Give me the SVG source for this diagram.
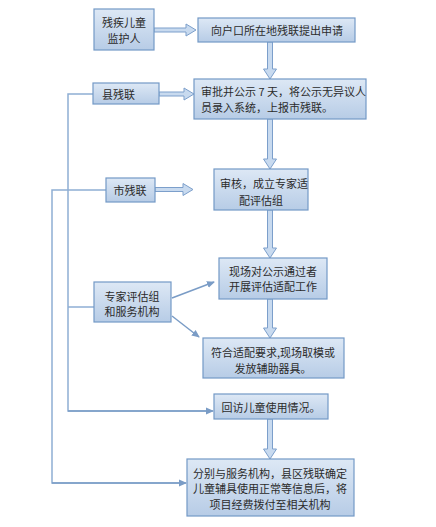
<svg xmlns="http://www.w3.org/2000/svg" width="436" height="527" viewBox="0 0 436 527">
<defs>
<linearGradient id="g" x1="0" y1="0" x2="0" y2="1">
<stop offset="0" stop-color="#dde8f5"/>
<stop offset="1" stop-color="#b7cce6"/>
</linearGradient>
<marker id="ah" markerWidth="8" markerHeight="8" refX="7" refY="4" orient="auto" markerUnits="userSpaceOnUse">
<path d="M0,0.5 L8,4 L0,7.5 Z" fill="#7a9cc6"/>
</marker>
<style>
.box{fill:url(#g);stroke:#7399c6;stroke-width:1.2}
.t{font-family:"Noto Sans CJK SC","Noto Sans",sans-serif;font-size:11px;fill:#2b2b2b;dominant-baseline:central}
.c{text-anchor:middle}
.ln{fill:none;stroke:#8eaed4;stroke-width:1.5}
.th{fill:none;stroke:#7a9cc6;stroke-width:1.5;marker-end:url(#ah)}
.ba{fill:#c8daef;stroke:#7c9fcb;stroke-width:1}
</style>
</defs>
<rect width="436" height="527" fill="#ffffff"/>
<g id="connectors">
<path class="ln" d="M93,94 H68 V411 H206"/>
<path class="ln" d="M68,307 H94"/>
<path class="ln" d="M106,190 H52 V483 H179"/>
<path class="th" d="M68,411 H213"/>
<path class="th" d="M52,483 H186"/>
<path class="th" d="M172,298 L214,282"/>
<path class="th" d="M172,316 L199,337"/>
<path class="ba" d="M154,28 H186 V24 L196,30 L186,36 V32 H154 Z"/>
<path class="ba" d="M159,92 H184 V88 L194,94 L184,100 V96 H159 Z"/>
<path class="ba" d="M155,187.5 H183 V183.5 L193,189.5 L183,195.5 V191.5 H155 Z"/>
<path class="ba" d="M267.5,42 V69 H263.5 L270,79 L276.5,69 H272.5 V42 Z"/>
<path class="ba" d="M267.5,119 V159 H263.5 L270,169 L276.5,159 H272.5 V119 Z"/>
<path class="ba" d="M267.5,210 V248 H263.5 L270,258 L276.5,248 H272.5 V210 Z"/>
<path class="ba" d="M267.5,299 V328 H263.5 L270,338 L276.5,328 H272.5 V299 Z"/>
<path class="ba" d="M267.5,419 V449 H263.5 L270,459 L276.5,449 H272.5 V419 Z"/>
</g>
<g id="n1"><rect class="box" x="94" y="9" width="60" height="41"/><text class="t c" x="124" y="22">残疾儿童</text><text class="t c" x="124" y="38">监护人</text></g>
<g id="n2"><rect class="box" x="198" y="18" width="157" height="24"/><text class="t c" x="277" y="30">向户口所在地残联提出申请</text></g>
<g id="n3"><rect class="box" x="194" y="79" width="172" height="40"/><text class="t" x="201" y="91">审批并公示 7 天，将公示无异议人</text><text class="t" x="201" y="107">员录入系统，上报市残联。</text></g>
<g id="n4"><rect class="box" x="93" y="83" width="66" height="21"/><text class="t" x="102" y="94">县残联</text></g>
<g id="n5"><rect class="box" x="106" y="178" width="49" height="24"/><text class="t c" x="130" y="190">市残联</text></g>
<g id="n6"><rect class="box" x="214" y="169" width="94" height="41"/><text class="t c" x="264" y="183">审核，成立专家适</text><text class="t c" x="261" y="200">配评估组</text></g>
<g id="n7"><rect class="box" x="219" y="258" width="108" height="41"/><text class="t c" x="273" y="271">现场对公示通过者</text><text class="t c" x="273" y="286">开展评估适配工作</text></g>
<g id="n8"><rect class="box" x="94" y="282" width="77" height="40"/><text class="t c" x="132" y="296">专家评估组</text><text class="t c" x="132" y="311">和服务机构</text></g>
<g id="n9"><rect class="box" x="203" y="338" width="141" height="40"/><text class="t c" x="273" y="352">符合适配要求,现场取模或</text><text class="t c" x="273" y="368">发放辅助器具。</text></g>
<g id="n10"><rect class="box" x="214" y="394" width="114" height="25"/><text class="t c" x="271" y="407">回访儿童使用情况。</text></g>
<g id="n11"><rect class="box" x="187" y="459" width="167" height="57"/><text class="t c" x="270" y="473">分别与服务机构，县区残联确定</text><text class="t c" x="270" y="488">儿童辅具使用正常等信息后，将</text><text class="t c" x="270" y="504">项目经费拨付至相关机构</text></g>
</svg>
